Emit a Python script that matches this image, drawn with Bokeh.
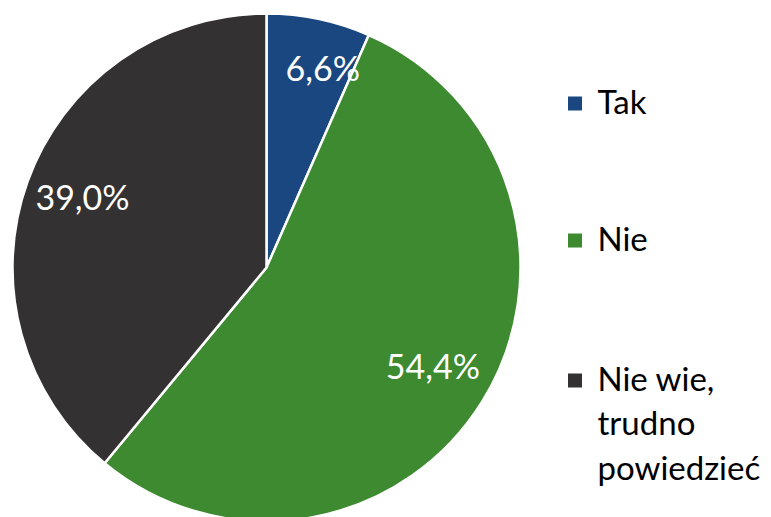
import math
from bokeh.plotting import figure
from bokeh.models import Range1d
from bokeh.core.properties import value
from bokeh.embed import file_html
from bokeh.resources import INLINE

# ---- data ----
categories = ["Tak", "Nie", "Nie wie,\ntrudno\npowiedzieć"]
values = [6.6, 54.4, 39.0]
value_labels = ["6,6%", "54,4%", "39,0%"]

# ---- style ----
colors = ["#1B4780", "#3D8A31", "#333132"]
FONT = "Lato"
R = 254
label_r = 0.77 * R
label_nudge = [(16, 9), (0, 5), (0, 5)]
legend_x_sq = 308.5
legend_x_txt = 331
legend_rows = [164, 27, -113]
legend_text_shift = 3
legend_line_gap = 44.5

p = figure(width=771, height=517, x_range=Range1d(-266, 505), y_range=Range1d(-250, 267),
           output_backend="svg", toolbar_location=None, min_border=0)
p.axis.visible = False
p.grid.visible = False
p.outline_line_color = None
p.background_fill_color = "white"

total = sum(values)
starts, ends, lx, ly = [], [], [], []
cum = 0.0
for i, v in enumerate(values):
    a0 = math.pi / 2 - 2 * math.pi * cum / total
    a1 = math.pi / 2 - 2 * math.pi * (cum + v) / total
    starts.append(a0)
    ends.append(a1)
    mid = (a0 + a1) / 2
    lx.append(label_r * math.cos(mid) + label_nudge[i][0])
    ly.append(label_r * math.sin(mid) + label_nudge[i][1])
    cum += v

p.wedge(x=0, y=0, radius=R, start_angle=starts, end_angle=ends, direction="clock",
        fill_color=colors, line_color="white", line_width=2.5)

p.text(x=lx, y=ly, text=value_labels, text_color="white", text_font=value(FONT),
       text_font_size="34px", text_align="center", text_baseline="middle")

# legend
sq_x, sq_y = [], []
tx, ty, tt = [], [], []
for i, cat in enumerate(categories):
    sq_x.append(legend_x_sq)
    sq_y.append(legend_rows[i])
    for j, line in enumerate(cat.split("\n")):
        tx.append(legend_x_txt)
        ty.append(legend_rows[i] + legend_text_shift - j * legend_line_gap)
        tt.append(line)

p.scatter(x=sq_x, y=sq_y, marker="square", size=14, fill_color=colors, line_color=None)
p.text(x=tx, y=ty, text=tt, text_color="black", text_font=value(FONT),
       text_font_size="33px", text_align="left", text_baseline="middle")

open("out.html", "w").write(file_html(p, INLINE))
